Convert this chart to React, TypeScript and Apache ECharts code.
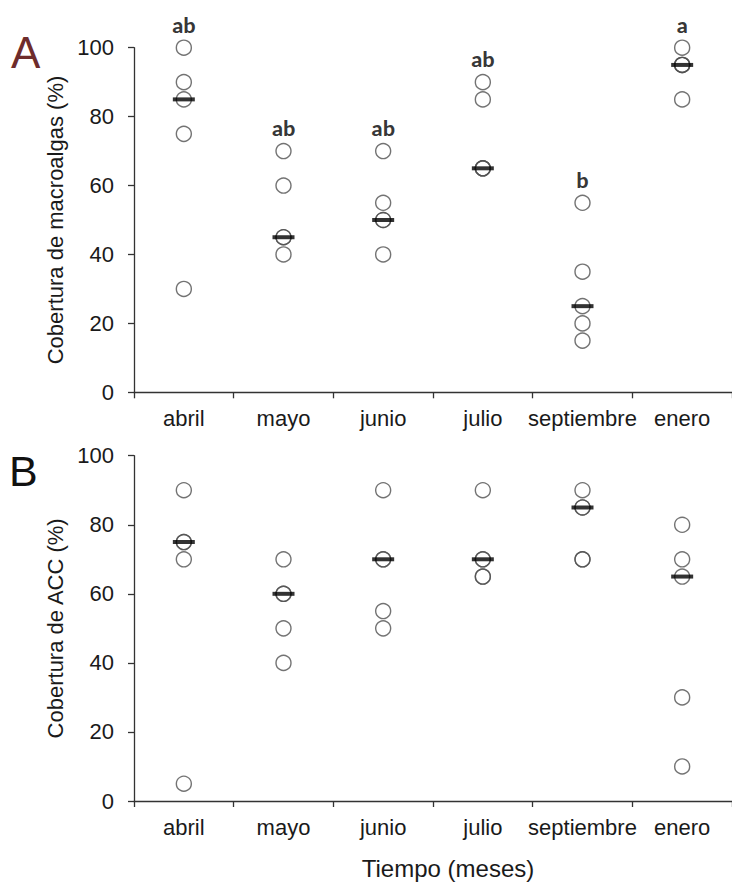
import React, { useEffect, useRef } from "react";
import * as echarts from "echarts";

const months = ["abril", "mayo", "junio", "julio", "septiembre", "enero"];

// Panel A: cobertura de macroalgas (%), 5 réplicas por mes
const macroalgas = [
  [100, 90, 85, 75, 30],
  [70, 60, 45, 45, 40],
  [70, 55, 50, 50, 40],
  [90, 85, 65, 65, 65],
  [55, 35, 25, 20, 15],
  [100, 95, 95, 95, 85],
];
const macroalgasMedian = [85, 45, 50, 65, 25, 95];
const macroalgasLetters = ["ab", "ab", "ab", "ab", "b", "a"];

// Panel B: cobertura de ACC (%)
const acc = [
  [90, 75, 75, 70, 5],
  [70, 60, 60, 50, 40],
  [90, 70, 70, 55, 50],
  [90, 70, 70, 65, 65],
  [90, 85, 85, 70, 70],
  [80, 70, 65, 30, 10],
];
const accMedian = [75, 60, 70, 70, 85, 65];

const FONT = "Arial, 'Liberation Sans', Helvetica, sans-serif";
const AXIS_COLOR = "#333333";
const TEXT_COLOR = "#1a1a1a";

function points(groups: number[][]) {
  const out: [string, number][] = [];
  groups.forEach((g, i) => g.forEach((v) => out.push([months[i], v])));
  return out;
}

function xAxisCfg(gridIndex: number) {
  return {
    type: "category",
    gridIndex,
    data: months,
    boundaryGap: true,
    axisLine: { show: true, lineStyle: { color: AXIS_COLOR, width: 1.3 } },
    axisTick: { show: true, length: 6, alignWithLabel: false, lineStyle: { color: AXIS_COLOR, width: 1.3 } },
    axisLabel: { interval: 0, fontSize: 22, color: TEXT_COLOR, margin: 15, fontFamily: FONT },
    splitLine: { show: false },
  };
}

function yAxisCfg(gridIndex: number, name: string) {
  return {
    type: "value",
    gridIndex,
    min: 0,
    max: 100,
    interval: 20,
    name,
    nameLocation: "middle",
    nameGap: 56,
    nameTextStyle: { fontSize: 22, color: TEXT_COLOR, fontFamily: FONT },
    axisLine: { show: true, lineStyle: { color: AXIS_COLOR, width: 1.3 } },
    axisTick: { show: true, length: 6, lineStyle: { color: AXIS_COLOR, width: 1.3 } },
    axisLabel: { fontSize: 22, color: TEXT_COLOR, margin: 20, fontFamily: FONT },
    splitLine: { show: false },
  };
}

function circleSeries(idx: number, groups: number[][]) {
  return {
    type: "scatter",
    xAxisIndex: idx,
    yAxisIndex: idx,
    data: points(groups),
    symbol: "circle",
    symbolSize: 15,
    itemStyle: { color: "rgba(0,0,0,0)", borderColor: "#505050", borderWidth: 1.4 },
    z: 2,
  };
}

function medianSeries(idx: number, med: number[]) {
  return {
    type: "scatter",
    xAxisIndex: idx,
    yAxisIndex: idx,
    data: med.map((v, i) => [months[i], v]),
    symbol: "rect",
    symbolSize: [22, 4],
    itemStyle: { color: "#000000" },
    z: 3,
  };
}

export default function App() {
  const ref = useRef<HTMLDivElement>(null);
  useEffect(() => {
    if (!ref.current) return;
    const chart = echarts.init(ref.current, undefined, { renderer: "svg" });
    chart.setOption({
      animation: false,
      backgroundColor: "#ffffff",
      grid: [
        { left: 134, top: 47.7, height: 344.6, right: -8 },
        { left: 134, top: 455.7, height: 345.3, right: -8 },
      ],
      xAxis: [xAxisCfg(0), xAxisCfg(1)],
      yAxis: [yAxisCfg(0, "Cobertura de macroalgas (%)"), yAxisCfg(1, "Cobertura de ACC (%)")],
      series: [
        circleSeries(0, macroalgas),
        medianSeries(0, macroalgasMedian),
        {
          type: "scatter",
          xAxisIndex: 0,
          yAxisIndex: 0,
          data: macroalgas.map((g, i) => [months[i], Math.max(...g)]),
          symbol: "circle",
          symbolSize: 1,
          itemStyle: { color: "rgba(0,0,0,0)" },
          label: {
            show: true,
            position: "inside",
            offset: [0, -23],
            formatter: (p: any) => macroalgasLetters[p.dataIndex],
            fontFamily: "Carlito, Calibri, Lato, sans-serif",
            fontWeight: "bold",
            fontSize: 23,
            color: "#000000",
          },
          z: 4,
        },
        circleSeries(1, acc),
        medianSeries(1, accMedian),
      ],
      graphic: [
        {
          type: "text",
          left: 11,
          top: 30,
          style: { text: "A", fontSize: 44, fontFamily: FONT, fill: "#6e2c2c" },
        },
        {
          type: "text",
          left: 9,
          top: 449,
          style: { text: "B", fontSize: 43, fontFamily: FONT, fill: "#111111" },
        },
        {
          type: "text",
          x: 448,
          y: 868,
          style: {
            text: "Tiempo (meses)",
            fontSize: 24,
            fontFamily: FONT,
            fill: TEXT_COLOR,
            align: "center",
            verticalAlign: "middle",
          },
        },
      ],
    });
    return () => chart.dispose();
  }, []);
  return (
    <div
      ref={ref}
      style={{ position: "absolute", left: 0, top: 0, width: 732, height: 882, background: "#fff" }}
    />
  );
}
